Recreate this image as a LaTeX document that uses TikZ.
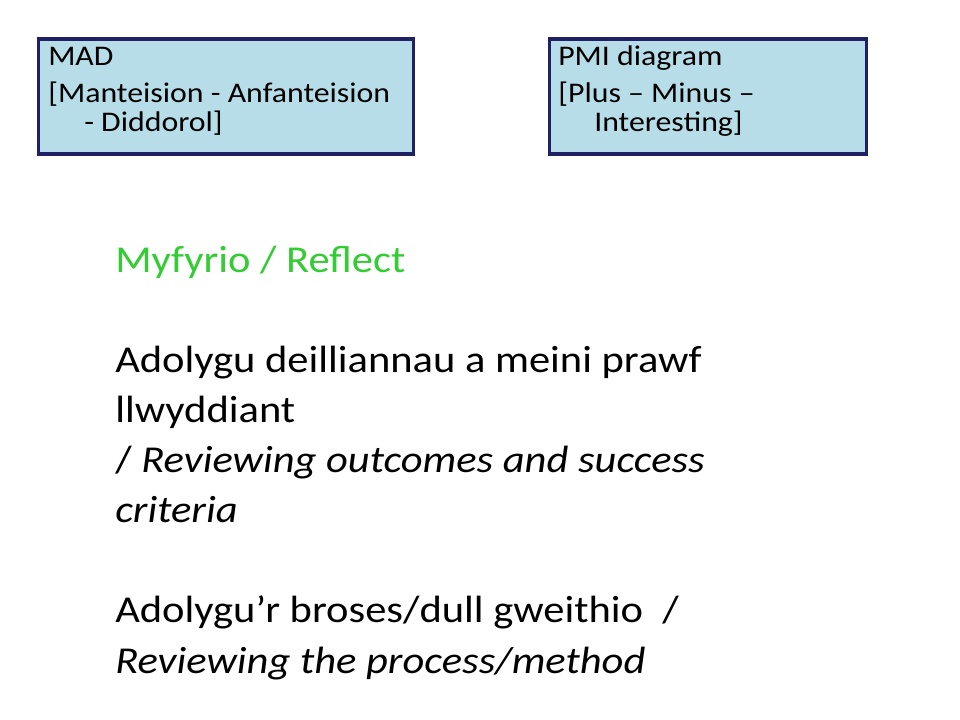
\documentclass[tikz,border=0pt]{standalone}
\usepackage{fontspec}
\setmainfont{Carlito}[FakeStretch=1.12]
\definecolor{panelfill}{RGB}{183,222,232}
\definecolor{paneldraw}{RGB}{32,32,100}
\definecolor{refgreen}{RGB}{51,204,51}
\begin{document}
\begin{tikzpicture}[x=0.75bp,y=-0.75bp,
  panel/.style={draw=paneldraw, line width=2.5bp, fill=panelfill, inner sep=0pt},
  boxtext/.style={inner sep=0pt, anchor=base west, align=left,
    font=\fontsize{21.4}{21.4}\selectfont},
  maintext/.style={inner sep=0pt, anchor=base west, align=left,
    font=\fontsize{28.6}{37.7}\selectfont}]
\useasboundingbox (0,0) rectangle (960,720);
\fill[white] (0,0) rectangle (960,720);
% panels
\node[panel, minimum width=281.1bp, minimum height=86.3bp] (madbox) at (225.9,96.5) {};
\node[panel, minimum width=238.0bp, minimum height=86.3bp] (pmibox) at (708,96.5) {};
% anchor = baseline of the last line
\node[boxtext] (madtext) at (48,131) {MAD\\[6.7bp]{[}Manteision - Anfanteision\\\hspace*{27bp}- Diddorol]};
\node[boxtext] (pmitext) at (558,131) {PMI diagram\\[6.7bp]{[}Plus – Minus –\\\hspace*{27bp}Interesting]};
% body
\node[maintext] (body) at (115,673) {\textcolor{refgreen}{Myfyrio / Reflect}\\[37.7bp]
Adolygu deilliannau a meini prawf\\
llwyddiant\\
/ \textit{Reviewing outcomes and success}\\
\textit{criteria}\\[37.7bp]
Adolygu’r broses/dull gweithio\ \ /\\
\textit{Reviewing the process/method}};
\end{tikzpicture}
\end{document}
